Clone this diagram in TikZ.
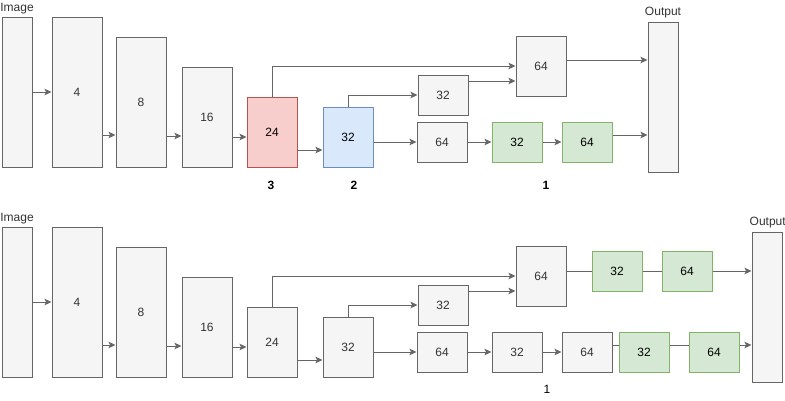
\documentclass[tikz,border=0pt]{standalone}
\usepackage{fontspec}
\setmainfont{Liberation Sans}
\usetikzlibrary{arrows.meta,calc}

\definecolor{boxfill}{HTML}{F5F5F5}
\definecolor{boxline}{HTML}{666666}
\definecolor{boxtext}{HTML}{333333}
\definecolor{redfill}{HTML}{F8CECC}
\definecolor{redline}{HTML}{B85450}
\definecolor{bluefill}{HTML}{DAE8FC}
\definecolor{blueline}{HTML}{6C8EBF}
\definecolor{greenfill}{HTML}{D5E8D4}
\definecolor{greenline}{HTML}{82B366}

\begin{document}
\begin{tikzpicture}[x=1pt,y=-1pt,
  font=\fontsize{12}{14}\selectfont,
  layer/.style={draw=boxline, fill=boxfill, text=boxtext, line width=1pt,
    inner sep=0pt, minimum width=50pt, minimum height=40pt},
  slim/.style={layer, minimum width=30pt, minimum height=150pt},
  redlayer/.style={layer, draw=redline, fill=redfill, text=black},
  bluelayer/.style={layer, draw=blueline, fill=bluefill, text=black},
  greenlayer/.style={layer, draw=greenline, fill=greenfill, text=black},
  arr/.style={draw=boxline, line width=1pt,
    -{Stealth[length=7pt,width=6.5pt,inset=1.5pt]}},
  link/.style={draw=boxline, line width=1pt},
  caption/.style={text=boxtext, inner sep=0pt},
  stagenum/.style={font=\fontsize{12}{14}\selectfont\bfseries, inner sep=0pt},
  plainnum/.style={inner sep=0pt}
]
\useasboundingbox (0,0) rectangle (785,400);

% ---------- upper network ----------
\node[slim] (imgA) at (17,92) {};
\node[layer, minimum height=150pt] (b4A) at (77,92) {4};
\node[layer, minimum height=130pt] (b8A) at (141,102) {8};
\node[layer, minimum height=100pt] (b16A) at (207,117) {16};
\node[redlayer, minimum height=70pt] (b24A) at (272,132) {24};
\node[bluelayer, minimum height=60pt] (b32A) at (348,137) {32};
\node[layer] (u32A) at (443,95) {32};
\node[layer] (l64A) at (442,142) {64};
\node[greenlayer] (g32A) at (517,142) {32};
\node[greenlayer] (g64A) at (587,142) {64};
\node[layer, minimum height=60pt] (m64A) at (541,66) {64};
\node[slim] (outA) at (663,97) {};

\node[caption, anchor=base] (imgAlbl) at ($(imgA.north)+(0,-5)$) {Image};
\node[caption, anchor=base] (outAlbl) at ($(outA.north)+(0,-6)$) {Output};
\node[stagenum] (n3) at (271,185) {3};
\node[stagenum] (n2) at (354,185) {2};
\node[stagenum] (n1) at (546,185) {1};

\draw[arr] (imgA.east) -- (b4A.west);
\coordinate (t1) at ($(b4A.east)+(0,43)$);
\draw[arr] (t1) -- (t1 -| b8A.west);
\coordinate (t2) at ($(b8A.east)+(0,34)$);
\draw[arr] (t2) -- (t2 -| b16A.west);
\coordinate (t3) at ($(b16A.east)+(0,20)$);
\draw[arr] (t3) -- (t3 -| b24A.west);
\coordinate (t4) at ($(b24A.east)+(0,18)$);
\draw[arr] (t4) -- (t4 -| b32A.west);
\draw[arr] (b24A.north) |- (m64A.west);
\draw[arr] (b32A.north) |- (u32A.west);
\coordinate (t5) at ($(u32A.east)+(0,-14)$);
\draw[arr] (t5) -- (t5 -| m64A.west);
\draw[arr] (l64A.west -| b32A.east) -- (l64A.west);
\draw[arr] (l64A.east) -- (g32A.west);
\draw[arr] (g32A.east) -- (g64A.west);
\coordinate (t7) at ($(g64A.east)+(0,-7)$);
\draw[arr] (t7) -- (t7 -| outA.west);
\coordinate (t8) at ($(m64A.east)+(0,-6)$);
\draw[arr] (t8) -- (t8 -| outA.west);

% ---------- lower network ----------
\node[slim] (imgB) at (17,302) {};
\node[layer, minimum height=150pt] (b4B) at (77,302) {4};
\node[layer, minimum height=130pt] (b8B) at (141,312) {8};
\node[layer, minimum height=100pt] (b16B) at (207,327) {16};
\node[layer, minimum height=70pt] (b24B) at (272,342) {24};
\node[layer, minimum height=60pt] (b32B) at (348,347) {32};
\node[layer] (u32B) at (443,305) {32};
\node[layer] (l64B) at (442,352) {64};
\node[layer] (c32B) at (517,352) {32};
\node[layer] (c64B) at (587,352) {64};
\node[greenlayer] (g32B) at (644,352) {32};
\node[greenlayer] (g64B) at (714,352) {64};
\node[layer, minimum height=60pt] (m64B) at (541,276) {64};
\node[greenlayer] (ug32B) at (617,271) {32};
\node[greenlayer] (ug64B) at (687,271) {64};
\node[slim] (outB) at (767,307) {};

\node[caption, anchor=base] (imgBlbl) at ($(imgB.north)+(0,-5)$) {Image};
\node[caption, anchor=base west] (outBlbl) at ($(outB.north west)+(-2,-6)$) {Output};
\node[plainnum] (m1) at (547,389) {1};

\draw[arr] (imgB.east) -- (b4B.west);
\coordinate (s1) at ($(b4B.east)+(0,43)$);
\draw[arr] (s1) -- (s1 -| b8B.west);
\coordinate (s2) at ($(b8B.east)+(0,34)$);
\draw[arr] (s2) -- (s2 -| b16B.west);
\coordinate (s3) at ($(b16B.east)+(0,20)$);
\draw[arr] (s3) -- (s3 -| b24B.west);
\coordinate (s4) at ($(b24B.east)+(0,18)$);
\draw[arr] (s4) -- (s4 -| b32B.west);
\draw[arr] (b24B.north) |- (m64B.west);
\draw[arr] (b32B.north) |- (u32B.west);
\coordinate (s5) at ($(u32B.east)+(0,-14)$);
\draw[arr] (s5) -- (s5 -| m64B.west);
\draw[arr] (l64B.west -| b32B.east) -- (l64B.west);
\draw[arr] (l64B.east) -- (c32B.west);
\draw[arr] (c32B.east) -- (c64B.west);
\coordinate (s6) at ($(c64B.east)+(0,-7)$);
\draw[link] (s6) -- (s6 -| g32B.west);
\coordinate (s7) at ($(g32B.east)+(0,-7)$);
\draw[link] (s7) -- (s7 -| g64B.west);
\coordinate (s8) at ($(g64B.east)+(0,-7)$);
\draw[arr] (s8) -- (s8 -| outB.west);
\draw[link] (ug32B.west -| m64B.east) -- (ug32B.west);
\draw[link] (ug32B.east) -- (ug64B.west);
\draw[arr] (ug64B.east) -- (ug64B.east -| outB.west);
\end{tikzpicture}
\end{document}
